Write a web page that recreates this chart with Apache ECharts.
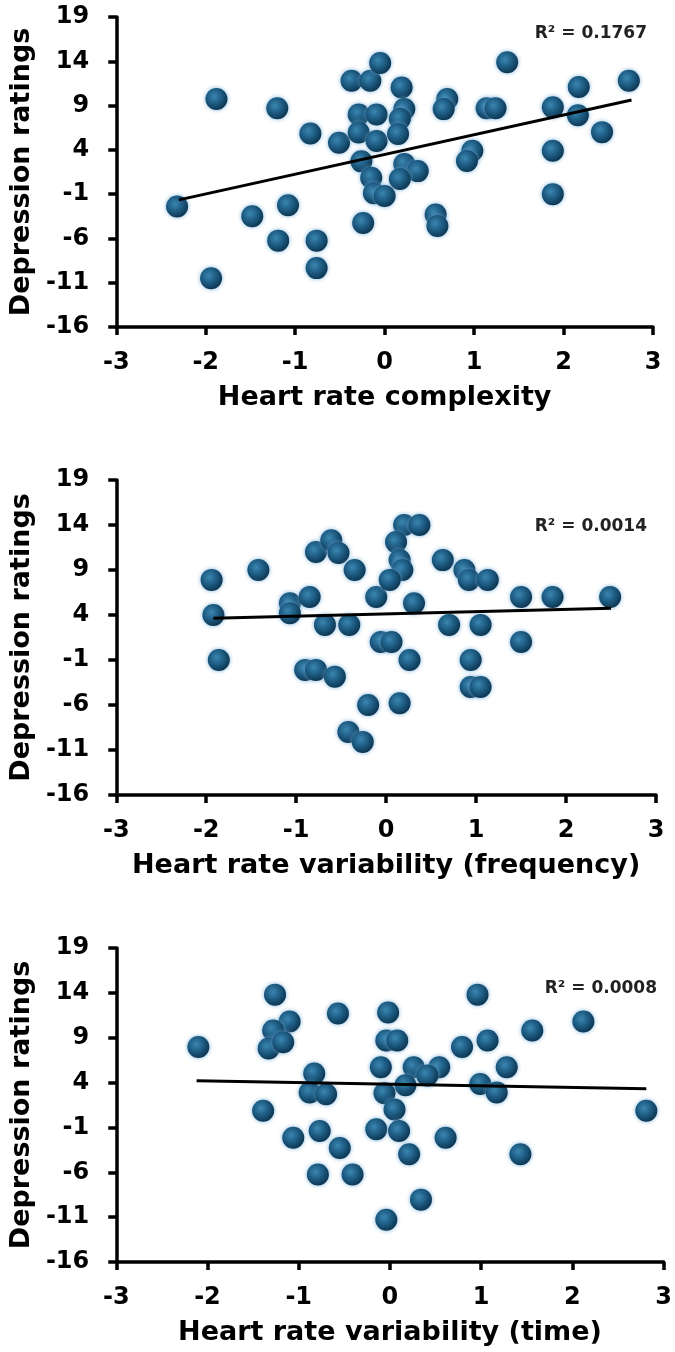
<!DOCTYPE html>
<html>
<head>
<meta charset="utf-8">
<script src="https://cdn.jsdelivr.net/npm/echarts@6/dist/echarts.min.js"></script>
<style>
html,body{margin:0;padding:0;background:#fff;}
#chart{width:675px;height:1352px;}
</style>
</head>
<body>
<div id="chart"></div>
<script>
// ---- Data ----
const yTicks = [-16, -11, -6, -1, 4, 9, 14, 19];
const xTicks = [-3, -2, -1, 0, 1, 2, 3];
const yTitle = 'Depression ratings';
const xTitles = ['Heart rate complexity', 'Heart rate variability (frequency)', 'Heart rate variability (time)'];
const r2Labels = ['R\u00B2 = 0.1767', 'R\u00B2 = 0.0014', 'R\u00B2 = 0.0008'];

const complexityPoints = [[-2.32,-2.4],[-1.88,9.75],[-1.20,8.7],[-0.83,5.85],[-0.51,4.8],[-0.37,11.8],[-0.16,11.8],[-0.05,13.8],[0.19,11.05],[-0.29,8.0],[-0.09,8.0],[0.22,8.6],[0.17,7.5],[-0.29,5.95],[-0.09,5.0],[0.15,5.8],[-0.26,2.7],[-0.15,0.85],[0.22,2.4],[0.37,1.6],[0.17,0.7],[-0.12,-0.9],[0.0,-1.2],[-0.24,-4.25],[-1.48,-3.5],[-1.08,-2.25],[-1.19,-6.25],[-0.76,-6.25],[-0.76,-9.35],[-1.94,-10.5],[0.70,9.75],[0.66,8.6],[1.14,8.7],[1.24,8.7],[1.37,13.9],[0.98,3.9],[0.92,2.75],[1.88,8.8],[1.88,3.9],[1.88,-1.0],[0.57,-3.3],[0.59,-4.6],[2.17,11.1],[2.16,7.9],[2.43,6.0],[2.73,11.8]];
const complexityTrend = [[-2.3,-1.65],[2.76,9.62]];

const frequencyPoints = [[-1.94,7.9],[-1.92,4.0],[-1.86,-1.0],[-1.42,9.0],[-1.07,5.3],[-1.07,4.2],[-0.85,6.0],[-0.78,11.0],[-0.61,12.3],[-0.53,10.9],[-0.35,9.0],[-0.68,2.9],[-0.41,2.9],[-0.90,-2.1],[-0.78,-2.1],[-0.57,-2.85],[-0.20,-6.0],[-0.42,-9.0],[-0.26,-10.1],[-0.06,1.0],[0.06,1.0],[-0.11,6.0],[0.20,14.0],[0.37,14.0],[0.11,12.1],[0.15,10.1],[0.18,9.0],[0.04,7.9],[0.31,5.3],[0.63,10.1],[0.87,9.0],[0.92,7.9],[1.13,7.9],[1.50,6.0],[1.85,6.0],[2.49,6.0],[0.70,2.9],[1.05,2.9],[1.50,1.0],[0.26,-1.0],[0.94,-1.0],[0.94,-4.0],[1.05,-4.0],[0.15,-5.8]];
const frequencyTrend = [[-1.92,3.65],[2.5,4.75]];

const timePoints = [[-2.10,7.96],[-1.26,13.8],[-1.10,10.8],[-1.28,9.8],[-1.33,7.8],[-1.17,8.5],[-0.57,11.7],[-0.83,5.0],[-0.88,2.9],[-0.70,2.7],[-1.39,0.85],[-1.06,-2.15],[-0.77,-1.4],[-0.55,-3.3],[-0.79,-6.25],[-0.41,-6.25],[-0.04,-11.3],[-0.02,11.8],[-0.04,8.7],[0.08,8.7],[-0.10,5.7],[0.26,5.7],[0.54,5.7],[0.41,4.8],[0.17,3.7],[-0.06,2.8],[0.05,1.0],[-0.15,-1.2],[0.10,-1.4],[0.21,-4.0],[0.34,-9.05],[0.61,-2.15],[0.79,7.96],[1.07,8.7],[0.96,13.8],[1.28,5.7],[0.99,3.85],[1.17,2.9],[1.56,9.8],[2.12,10.8],[2.81,0.85],[1.43,-4.0]];
const timeTrend = [[-2.12,4.2],[2.81,3.3]];

// ---- Layout / style ----
const FONT = 'DejaVu Sans';
const grids = [
  {left:110, top:17, width:543, height:310},
  {left:113, top:480, width:543, height:315},
  {left:114, top:948, width:550, height:314}
];
const r2Pos = [{right:23, top:20},{right:23, top:513},{right:13, top:975}];
const pointSets = [complexityPoints, frequencyPoints, timePoints];
const trendSets = [complexityTrend, frequencyTrend, timeTrend];

const dotColor = new echarts.graphic.RadialGradient(0.4, 0.38, 0.62, [
  {offset:0, color:'#3a86b0'},
  {offset:0.55, color:'#1d5b82'},
  {offset:1, color:'#0e3854'}
]);

const axisLine = {show:true, onZero:false, lineStyle:{color:'#000', width:3.5}};
const axisTick = {show:true, length:8, lineStyle:{color:'#000', width:3.5}};

const xAxes = [], yAxes = [], series = [], titles = [];
for (let i = 0; i < 3; i++) {
  xAxes.push({
    gridIndex:i, type:'value', min:xTicks[0], max:xTicks[xTicks.length-1], interval:1,
    axisLine, axisTick:Object.assign({}, axisTick, {customValues:xTicks}),
    splitLine:{show:false},
    axisLabel:{customValues:xTicks, margin:24, color:'#000', fontFamily:FONT, fontWeight:'bold', fontSize:24},
    name:xTitles[i], nameLocation:'middle', nameGap:57,
    nameTextStyle:{color:'#000', fontFamily:FONT, fontWeight:'bold', fontSize:27}
  });
  yAxes.push({
    gridIndex:i, type:'value', min:yTicks[0], max:yTicks[yTicks.length-1],
    axisLine, axisTick:Object.assign({}, axisTick, {customValues:yTicks}),
    splitLine:{show:false},
    axisLabel:{customValues:yTicks, margin:27, color:'#000', fontFamily:FONT, fontWeight:'bold', fontSize:24},
    name:yTitle, nameLocation:'middle', nameGap:67, nameRotate:90,
    nameTextStyle:{color:'#000', fontFamily:FONT, fontWeight:'bold', fontSize:27}
  });
  series.push({
    type:'scatter', xAxisIndex:i, yAxisIndex:i, data:pointSets[i],
    symbol:'circle', symbolSize:22, z:2, silent:true,
    itemStyle:{color:dotColor, shadowBlur:4, shadowColor:'rgba(110,170,215,0.9)', opacity:1}
  });
  series.push({
    type:'line', xAxisIndex:i, yAxisIndex:i, data:trendSets[i],
    symbol:'none', z:5, silent:true,
    lineStyle:{color:'#000', width:3}
  });
  titles.push(Object.assign({
    text:r2Labels[i],
    textStyle:{color:'#222', fontFamily:FONT, fontWeight:'bold', fontSize:17}
  }, r2Pos[i]));
}

const chart = echarts.init(document.getElementById('chart'), null, {renderer:'canvas'});
chart.setOption({
  animation:false,
  backgroundColor:'#fff',
  title:titles,
  grid:grids,
  xAxis:xAxes,
  yAxis:yAxes,
  series
});
</script>
</body>
</html>
